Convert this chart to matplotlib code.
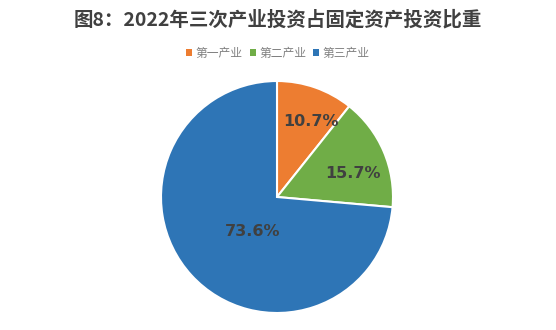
import matplotlib
matplotlib.use("Agg")
import matplotlib.pyplot as plt

plt.rcParams['font.family'] = ['Noto Sans CJK SC', 'DejaVu Sans']

categories = ['第一产业', '第二产业', '第三产业']
values = [10.7, 15.7, 73.6]
labels = ['10.7%', '15.7%', '73.6%']
colors = ['#ED7D31', '#70AD47', '#2E75B6']
title = '图8：2022年三次产业投资占固定资产投资比重'

fig = plt.figure(figsize=(5.56, 3.30), dpi=100)
ax = fig.add_axes([161/556, 17/330, 232/556, 232/330])
wedges, _ = ax.pie(values, colors=colors, startangle=90, counterclock=False,
                   radius=1.0, wedgeprops=dict(edgecolor='white', linewidth=1.5))
ax.set_xlim(-1, 1)
ax.set_ylim(-1, 1)
ax.set_aspect('auto')
ax.axis('off')

label_pos = [(0.29, 0.655), (0.655, 0.205), (-0.21, -0.30)]
for (x, y), t in zip(label_pos, labels):
    ax.text(x, y, t, ha='center', va='center', fontsize=11.5, fontweight='bold',
            color='#404040', family='DejaVu Sans')

fig.text(0.5, 1 - 20/330, title, ha='center', va='center', fontsize=14,
         fontweight='bold', color='#404040')

leg = fig.legend(wedges, categories, loc='center', bbox_to_anchor=(0.5, 1 - 53/330),
                 ncol=3, frameon=False, fontsize=8.5, handlelength=0.5, handleheight=0.5,
                 handletextpad=0.3, columnspacing=0.6, labelcolor='#808080')
for h in leg.legend_handles:
    h.set_edgecolor('none')

fig.savefig('out.png', dpi=100)
